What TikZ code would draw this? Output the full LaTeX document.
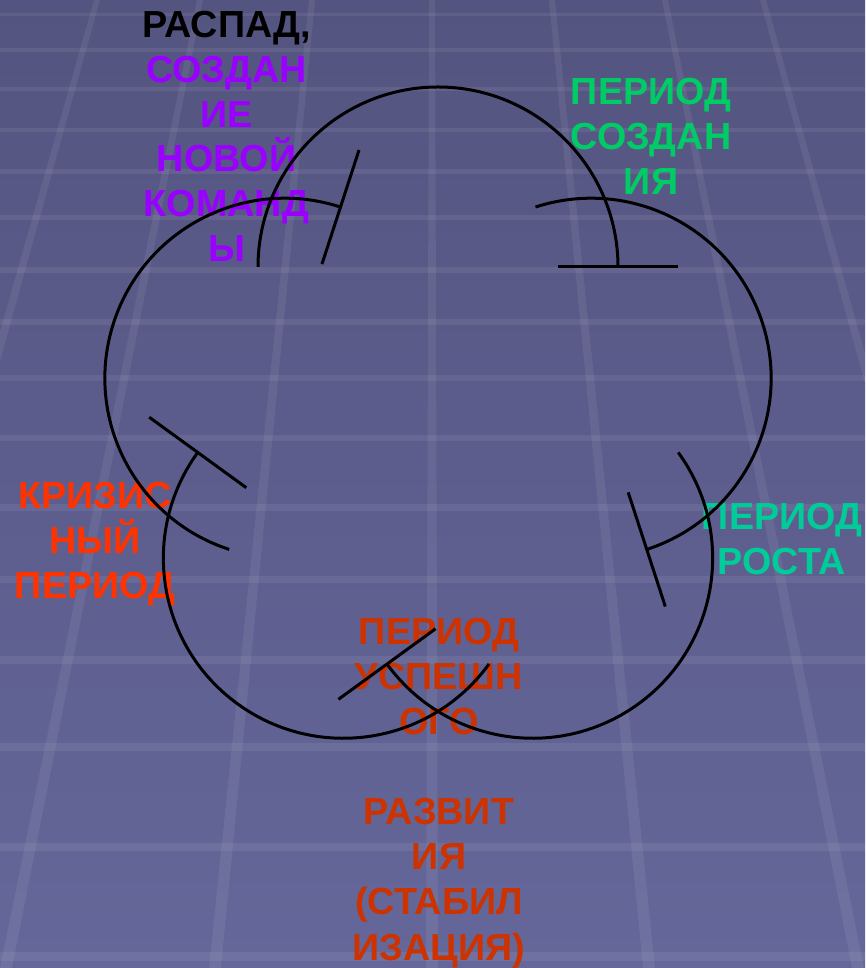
\documentclass[tikz,border=0pt]{standalone}
\usepackage{fontspec}
\setmainfont{Liberation Sans}
\usetikzlibrary{calc}
\definecolor{bgtop}{HTML}{545480}
\definecolor{bgbot}{HTML}{65679A}
\definecolor{cpurple}{HTML}{9900FF}
\definecolor{cgreen}{HTML}{00CC66}
\definecolor{cteal}{HTML}{00CC99}
\definecolor{cred}{HTML}{FF3300}
\definecolor{corange}{HTML}{CC3300}
\begin{document}
\begin{tikzpicture}[x=1pt,y=1pt,
  arcline/.style={line width=3pt, black},
  lbl/.style={anchor=base, inner sep=0pt, font=\fontsize{37.7}{45}\selectfont\bfseries},
  gridfill/.style={fill=white, fill opacity=0.065},
  gridline/.style={draw=white, draw opacity=0.065}]
\useasboundingbox (0,0) rectangle (865,968);
\shade[top color=bgtop, bottom color=bgbot] (0,0) rectangle (865,968);
% perspective grid
\foreach \y/\w in {15/3,50/3.5,89/4,130/4.5,172/5,218/5,270/5.5,322/6,378/6,438/6.5,508/7,580/7,660/7.5,747/8,847/8.5,957/9}
  \draw[gridline, line width=\w pt] (0,968-\y) -- (865,968-\y);
\foreach \xt/\xb in {97/-174,200/6,312/215,432/432,552/649,665/858,763/1031}
  \fill[gridfill] (\xt-3,968) -- (\xt+3,968) -- (\xb+6,0) -- (\xb-6,0) -- cycle;
% labels
\node[lbl] (a1) at (227,930) {РАСПАД,};
\node[lbl, cpurple] (a2) at (226.5,885) {СОЗДАН};
\node[lbl, cpurple] (a3) at (226.5,840) {ИЕ};
\node[lbl, cpurple] (a4) at (226.5,796) {НОВОЙ};
\node[lbl, cpurple] (a5) at (226.5,751) {КОМАНД};
\node[lbl, cpurple] (a6) at (226.5,706) {Ы};
\node[lbl, cgreen] (b1) at (651,863) {ПЕРИОД};
\node[lbl, cgreen] (b2) at (651,818) {СОЗДАН};
\node[lbl, cgreen] (b3) at (651,773) {ИЯ};
\node[lbl, cteal] (r1) at (782,438) {ПЕРИОД};
\node[lbl, cteal] (r2) at (782,393) {РОСТА};
\node[lbl, cred] (k1) at (95,459) {КРИЗИС};
\node[lbl, cred] (k2) at (95,414) {НЫЙ};
\node[lbl, cred] (k3) at (95,369) {ПЕРИОД};
\node[lbl, corange] (s1) at (439,323) {ПЕРИОД};
\node[lbl, corange] (s2) at (439,278) {УСПЕШН};
\node[lbl, corange] (s3) at (439,233) {ОГО};
\node[lbl, corange] (s4) at (439,143) {РАЗВИТ};
\node[lbl, corange] (s5) at (439,98) {ИЯ};
\node[lbl, corange] (s6) at (439,53) {(СТАБИЛ};
\node[lbl, corange] (s7) at (439,8) {ИЗАЦИЯ)};
% cycle of arcs
\coordinate (o) at (438,540);
\foreach \i/\t in {1/90,2/18,3/-54,4/-126,5/162}{
  \coordinate (c\i) at ($(o)+(\t:161)$);
  \draw[arcline] (c\i) ++(\t+90:180) arc[start angle=\t+90, end angle=\t-90, radius=180];
  \draw[arcline] (c\i) ++(\t-90:120) -- ++(\t-90:120);
}
\end{tikzpicture}
\end{document}
